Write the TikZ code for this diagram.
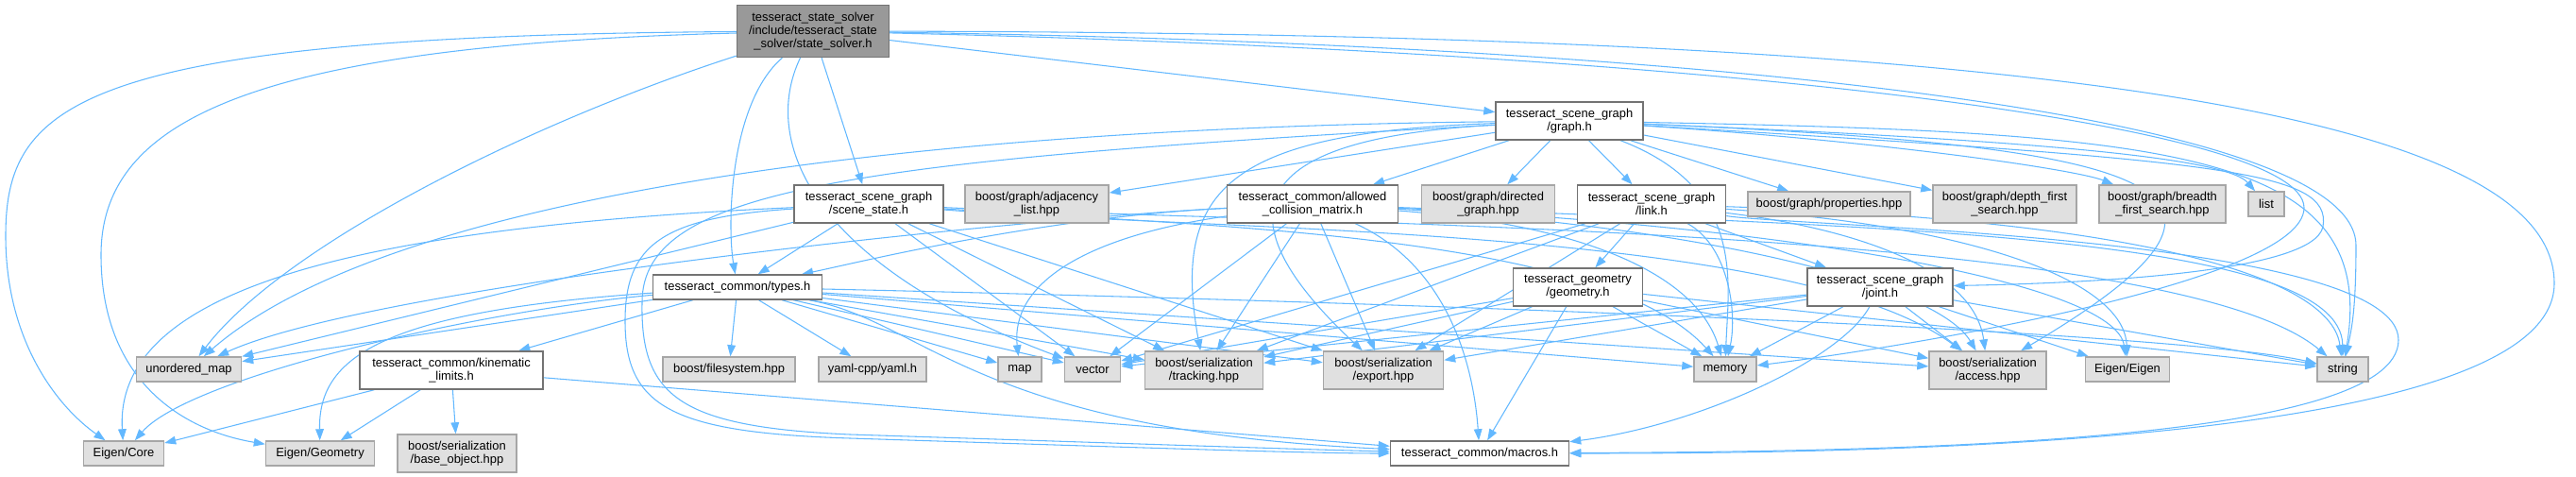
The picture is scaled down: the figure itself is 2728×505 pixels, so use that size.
\documentclass[tikz,border=0pt]{standalone}
\usepackage{fontspec}
\setmainfont{Liberation Sans}
\usetikzlibrary{arrows.meta, backgrounds}

\definecolor{edgeblue}{HTML}{63B8FF}
\definecolor{sysfill}{HTML}{E0E0E0}
\definecolor{rootfill}{HTML}{999999}

\tikzset{
  px/.style 2 args={minimum width=#1*0.75pt, minimum height=#2*0.75pt},
  filebox/.style={draw=black!55, line width=1.1pt, fill=white, align=center,
    inner sep=0pt, font=\fontsize{9.7}{10.7}\selectfont},
  sysbox/.style={filebox, draw=black!35, fill=sysfill},
  rootbox/.style={filebox, draw=black!55, fill=rootfill},
  dep/.style={draw=edgeblue, line width=0.8pt, -{Triangle[length=9pt,width=6.5pt]}},
}

\begin{document}
\begin{tikzpicture}[x=0.75pt, y=-0.75pt]
  \useasboundingbox (0,0) rectangle (2728,505);

  % files
  \node[rootbox, px={161}{55}] (root) at (861,33)
    {tesseract\_state\_solver\\/include/tesseract\_state\\\_solver/state\_solver.h};
  \node[filebox, px={156}{40}] (graph) at (1662,128) {tesseract\_scene\_graph\\/graph.h};

  \node[filebox, px={158}{40}] (scenestate) at (920,216) {tesseract\_scene\_graph\\/scene\_state.h};
  \node[sysbox, px={152}{40}] (adjacency) at (1098,216) {boost/graph/adjacency\\\_list.hpp};
  \node[filebox, px={181}{40}] (acm) at (1390,216) {tesseract\_common/allowed\\\_collision\_matrix.h};
  \node[sysbox, px={141}{40}] (directed) at (1576,216) {boost/graph/directed\\\_graph.hpp};
  \node[filebox, px={157}{40}] (link) at (1749,216) {tesseract\_scene\_graph\\/link.h};
  \node[sysbox, px={172}{26}] (properties) at (1937,216) {boost/graph/properties.hpp};
  \node[sysbox, px={152}{40}] (depth) at (2123,216) {boost/graph/depth\_first\\\_search.hpp};
  \node[sysbox, px={134}{40}] (breadth) at (2290,216) {boost/graph/breadth\\\_first\_search.hpp};
  \node[sysbox, px={38}{26}] (list) at (2400,216) {list};

  \node[filebox, px={179}{26}] (types) at (781,304) {tesseract\_common/types.h};
  \node[filebox, px={137}{40}] (geometry) at (1671,304) {tesseract\_geometry\\/geometry.h};
  \node[filebox, px={154}{40}] (joint) at (1991,304) {tesseract\_scene\_graph\\/joint.h};

  \node[sysbox, px={111}{26}] (unorderedmap) at (200,391) {unordered\_map};
  \node[filebox, px={194}{40}] (kinematic) at (478,392) {tesseract\_common/kinematic\\\_limits.h};
  \node[sysbox, px={140}{26}] (filesystem) at (772,391) {boost/filesystem.hpp};
  \node[sysbox, px={114}{26}] (yaml) at (924,391) {yaml-cpp/yaml.h};
  \node[sysbox, px={46}{26}] (map) at (1080,391) {map};
  \node[sysbox, px={59}{26}] (vector) at (1157,391) {vector};
  \node[sysbox, px={125}{40}] (tracking) at (1275,392) {boost/serialization\\/tracking.hpp};
  \node[sysbox, px={127}{40}] (export) at (1465,392) {boost/serialization\\/export.hpp};
  \node[sysbox, px={66}{26}] (memory) at (1827,391) {memory};
  \node[sysbox, px={124}{40}] (access) at (2105,392) {boost/serialization\\/access.hpp};
  \node[sysbox, px={89}{26}] (eigen) at (2253,391) {Eigen/Eigen};
  \node[sysbox, px={54}{26}] (string) at (2481,391) {string};

  \node[sysbox, px={85}{26}] (eigencore) at (131,480) {Eigen/Core};
  \node[sysbox, px={115}{26}] (eigengeom) at (339,480) {Eigen/Geometry};
  \node[sysbox, px={126}{40}] (baseobject) at (484,480) {boost/serialization\\/base\_object.hpp};
  \node[filebox, px={189}{26}] (macros) at (1567,480) {tesseract\_common/macros.h};

  \begin{scope}[on background layer]
  % state_solver.h
  \draw[dep] (root) .. controls (80,38) and (6,110) .. (6,250) .. controls (6,360) and (60,430) .. (eigencore);
  \draw[dep] (root) .. controls (260,48) and (107,130) .. (107,270) .. controls (107,400) and (190,455) .. (eigengeom);
  \draw[dep] (root) .. controls (560,130) and (300,260) .. (unorderedmap);
  \draw[dep] (root) .. controls (772,110) and (770,240) .. (types);
  \draw[dep] (root) .. controls (805,150) and (860,280) .. (vector);
  \draw[dep] (root) -- (scenestate);
  \draw[dep] (root) -- (graph);
  \draw[dep] (root) .. controls (1700,45) and (2495,110) .. (2495,260) .. controls (2495,330) and (2490,350) .. (string);
  \draw[dep] (root) .. controls (1800,55) and (2440,130) .. (2440,220) .. controls (2440,300) and (2000,370) .. (memory);
  \draw[dep] (root) .. controls (2100,35) and (2705,110) .. (2705,300) .. controls (2705,470) and (2000,480) .. (macros);

  % graph.h
  \foreach \dst in {adjacency, acm, directed, link, properties, depth}
    \draw[dep] (graph) -- (\dst);
  \draw[dep] (graph) .. controls (2000,150) and (2200,180) .. (breadth);
  \draw[dep] (graph) .. controls (2200,150) and (2360,170) .. (list);
  \draw[dep] (graph) .. controls (2350,170) and (2470,180) .. (2460,240) .. controls (2450,290) and (2200,300) .. (joint);
  \draw[dep] (graph) .. controls (1000,135) and (420,200) .. (unorderedmap);
  \draw[dep] (graph) .. controls (1300,140) and (1240,200) .. (tracking);
  \draw[dep] (graph) .. controls (1350,145) and (1270,210) .. (export);
  \draw[dep] (graph) .. controls (2300,155) and (2430,200) .. (access);
  \draw[dep] (graph) .. controls (2300,140) and (2520,160) .. (string);
  \draw[dep] (graph) .. controls (1850,200) and (1830,300) .. (memory);
  \draw[dep] (graph) .. controls (900,170) and (680,200) .. (680,320) .. controls (678,420) and (720,452) .. (900,460) .. controls (1150,468) and (1380,476) .. (macros);

  % scene_state.h
  \draw[dep] (scenestate) .. controls (400,240) and (120,300) .. (eigencore);
  \foreach \dst in {unorderedmap, types, vector, tracking, export}
    \draw[dep] (scenestate) -- (\dst);
  \draw[dep] (scenestate) .. controls (1300,245) and (1900,240) .. (access);
  \draw[dep] (scenestate) .. controls (1300,240) and (1700,250) .. (memory);
  \draw[dep] (scenestate) .. controls (1400,238) and (2300,240) .. (string);
  \draw[dep] (scenestate) .. controls (700,230) and (662,260) .. (662,340) .. controls (662,430) and (710,458) .. (900,464) .. controls (1150,472) and (1380,480) .. (macros);

  % types.h
  \foreach \dst in {unorderedmap, kinematic, filesystem, yaml, map, vector, tracking, export, memory, access}
    \draw[dep] (types) -- (\dst);
  \draw[dep] (types) .. controls (500,330) and (200,400) .. (eigencore);
  \draw[dep] (types) .. controls (400,330) and (337,380) .. (eigengeom);
  \draw[dep] (types) .. controls (1500,320) and (2300,350) .. (string);
  \draw[dep] (types) .. controls (980,340) and (1030,455) .. (macros);

  % kinematic_limits.h
  \foreach \dst in {eigencore, eigengeom, baseobject, macros}
    \draw[dep] (kinematic) -- (\dst);

  % allowed_collision_matrix.h
  \draw[dep] (acm) .. controls (1100,230) and (400,300) .. (unorderedmap);
  \draw[dep] (acm) .. controls (1100,230) and (900,280) .. (types);
  \draw[dep] (acm) .. controls (1150,250) and (1070,300) .. (map);
  \foreach \dst in {vector, tracking, export}
    \draw[dep] (acm) -- (\dst);
  \draw[dep] (acm) .. controls (1530,280) and (1560,380) .. (macros);
  \draw[dep] (acm) .. controls (1800,240) and (2050,300) .. (access);
  \draw[dep] (acm) .. controls (1700,240) and (1800,300) .. (memory);
  \draw[dep] (acm) .. controls (1900,240) and (2240,300) .. (eigen);
  \draw[dep] (acm) .. controls (2000,240) and (2480,250) .. (string);

  % link.h
  \foreach \dst in {geometry, joint, vector, tracking, export}
    \draw[dep] (link) -- (\dst);
  \draw[dep] (link) .. controls (1830,260) and (1840,330) .. (memory);
  \draw[dep] (link) .. controls (1950,240) and (2090,280) .. (access);
  \draw[dep] (link) .. controls (2100,240) and (2250,300) .. (eigen);
  \draw[dep] (link) .. controls (2300,235) and (2470,300) .. (string);
  \draw[dep] (link) .. controls (1900,240) and (2540,250) .. (2540,360) .. controls (2540,470) and (2000,478) .. (macros);

  % geometry.h
  \foreach \dst in {vector, tracking, export, macros, memory, access, string}
    \draw[dep] (geometry) -- (\dst);

  % joint.h
  \foreach \dst in {vector, tracking, export, memory, access, eigen, string}
    \draw[dep] (joint) -- (\dst);
  \draw[dep] (joint) .. controls (1950,380) and (1800,450) .. (macros);
  \end{scope}
\end{tikzpicture}
\end{document}
